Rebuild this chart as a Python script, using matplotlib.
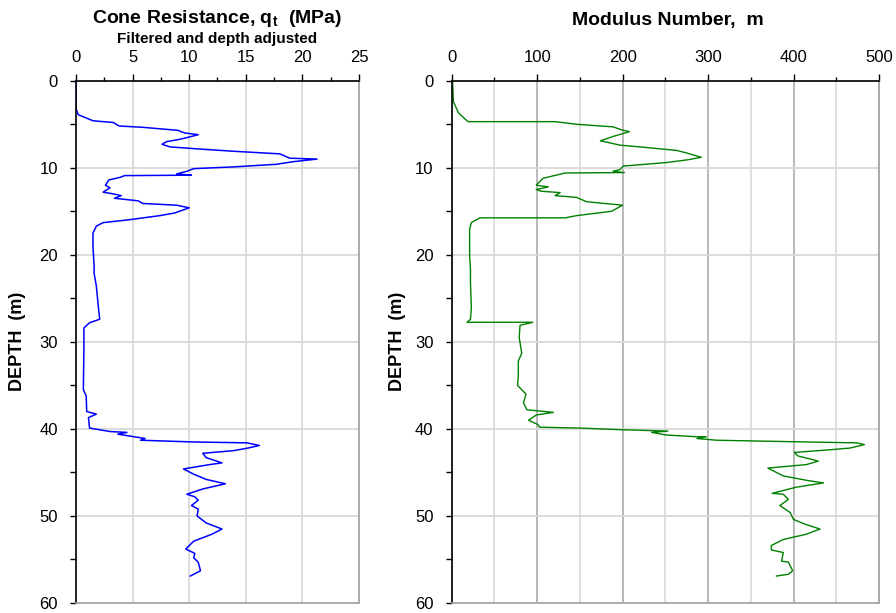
import matplotlib
matplotlib.use('Agg')
import matplotlib.pyplot as plt
from matplotlib.ticker import MultipleLocator

plt.rcParams['font.family'] = ['Liberation Sans', 'DejaVu Sans']
plt.rcParams['mathtext.fontset'] = 'custom'
plt.rcParams['mathtext.bf'] = 'Liberation Sans:bold'
plt.rcParams['mathtext.rm'] = 'Liberation Sans'

# cone resistance qt (MPa) vs depth (m)
qt_depth = [0.0, 0.5, 3.2, 3.9, 4.6, 4.8, 5.2, 5.35, 5.7, 6.0, 6.2, 6.6, 6.8, 7.0, 7.3,
            7.6, 7.8, 8.1, 8.4, 8.9, 9.0, 9.3, 9.6, 9.9, 10.1, 10.4, 10.7, 10.85, 10.9,
            11.1, 11.4, 12.0, 12.3, 12.8, 13.0, 13.2, 13.5, 13.8, 14.1, 14.3, 14.6, 15.2,
            15.5, 16.0, 16.3, 16.7, 17.5, 19.0, 21.3, 22.1, 23.6, 26.3, 27.4, 27.8, 28.4,
            30.9, 35.5, 36.2, 38.0, 38.3, 38.7, 39.9, 40.3, 40.4, 40.6, 41.1, 41.3, 41.5,
            41.6, 41.9, 42.2, 42.5, 42.8, 43.3, 43.9, 44.1, 44.6, 45.2, 45.8, 46.3, 46.9,
            47.5, 47.8, 48.2, 48.8, 49.2, 50.0, 50.8, 51.5, 52.1, 52.9, 53.8, 54.3, 54.8,
            55.3, 56.3, 56.9]
qt = [0.0, 0.0, 0.0, 0.2, 1.5, 3.3, 3.8, 5.9, 9.0, 9.6, 10.8, 9.6, 8.9, 8.0, 7.6,
      8.3, 10.4, 13.9, 18.0, 18.9, 21.3, 19.2, 17.7, 13.9, 10.4, 9.8, 8.9, 10.2, 4.3,
      3.9, 2.9, 2.6, 3.0, 2.4, 3.3, 4.0, 3.4, 5.5, 5.9, 8.9, 10.0, 8.7,
      7.4, 4.5, 2.4, 1.8, 1.5, 1.5, 1.6, 1.6, 1.8, 2.0, 2.1, 1.2, 0.7,
      0.7, 0.65, 0.9, 0.95, 1.8, 1.1, 1.2, 3.0, 4.5, 3.7, 6.1, 5.7, 10.4,
      15.1, 16.2, 15.2, 13.9, 11.2, 11.5, 12.9, 11.8, 9.5, 10.4, 11.5, 13.2, 11.2,
      9.8, 10.5, 10.8, 10.2, 10.8, 10.7, 11.5, 12.9, 12.0, 10.4, 9.7, 10.5, 10.4,
      10.8, 11.0, 10.1]

# modulus number m vs depth (m)
m_depth = [0.0, 0.1, 2.4, 3.7, 4.7, 4.7, 5.0, 5.3, 5.65, 5.85, 6.4, 6.9, 7.4, 7.6, 8.0,
           8.3, 8.8, 9.1, 9.4, 9.8, 10.2, 10.4, 10.55, 10.6, 11.2, 12.0, 12.2, 12.5,
           12.7, 12.85, 13.2, 13.4, 13.9, 14.3, 15.0, 15.5, 15.75, 15.75, 16.3, 17.1,
           20.2, 21.6, 23.2, 26.1, 27.4, 27.75, 27.75, 28.1, 29.5, 31.3, 32.2, 33.9,
           35.0, 35.5, 36.0, 37.0, 37.8, 38.1, 38.4, 39.0, 39.5, 39.8, 39.9, 40.1,
           40.25, 40.4, 40.7, 40.9, 40.9, 41.1, 41.3, 41.5, 41.6, 41.8, 42.2, 42.4,
           42.7, 43.1, 43.7, 44.1, 44.5, 45.4, 45.9, 46.2, 46.7, 47.4, 47.5, 48.1,
           48.8, 49.6, 50.4, 51.0, 51.5, 52.1, 52.7, 53.4, 53.9, 54.2, 55.2, 55.3,
           56.3, 56.7, 56.9]
modulus = [1, 1, 2, 8, 19, 121, 146, 189, 199, 208, 189, 174, 197, 220, 263,
           275, 292, 275, 251, 201, 197, 189, 202, 133, 107, 99, 113, 99,
           105, 127, 121, 146, 158, 200, 187, 146, 133, 33, 23, 21,
           21, 22, 22, 23, 22, 18, 95, 80, 79, 82, 78, 78,
           77, 82, 87, 84, 88, 119, 99, 90, 101, 103, 150, 201,
           253, 234, 251, 287, 298, 287, 310, 415, 474, 483, 466, 442,
           401, 405, 429, 415, 370, 388, 415, 435, 403, 375, 388, 394,
           384, 396, 400, 415, 431, 415, 388, 374, 374, 388, 386, 394,
           399, 394, 380]

fig = plt.figure(figsize=(8.96, 6.13), dpi=100)
ax1 = fig.add_axes([0.0848, 0.0163, 0.3158, 0.852])
ax2 = fig.add_axes([0.5041, 0.0163, 0.4769, 0.852])


def style_axis(ax, xmax, major, minor, dark_grid):
    ax.set_xlim(0, xmax)
    ax.set_ylim(60, 0)
    ax.xaxis.tick_top()
    ax.xaxis.set_major_locator(MultipleLocator(major))
    ax.xaxis.set_minor_locator(MultipleLocator(minor))
    ax.yaxis.set_major_locator(MultipleLocator(10))
    ax.yaxis.set_minor_locator(MultipleLocator(5))
    ax.tick_params(axis='x', which='major', length=5, width=1, pad=6, labelsize=12)
    ax.tick_params(axis='x', which='minor', length=3, width=1)
    ax.tick_params(axis='y', which='both', length=4, width=1, pad=9, labelsize=12)
    ax.spines['top'].set_color('black')
    ax.spines['left'].set_color('black')
    ax.spines['right'].set_color('#a0a0a0')
    ax.spines['bottom'].set_color('#a0a0a0')
    for s in ax.spines.values():
        s.set_linewidth(1.2)
    ax.set_axisbelow(True)
    ax.grid(axis='y', which='major', color='#d9d9d9', lw=1.3)
    if dark_grid:
        ax.grid(axis='x', which='major', color='#b3b3b3', lw=1.3)
        ax.grid(axis='x', which='minor', color='#dcdcdc', lw=1.3)
    else:
        ax.grid(axis='x', which='major', color='#d9d9d9', lw=1.3)


style_axis(ax1, 25, 5, 2.5, False)
style_axis(ax2, 500, 100, 50, True)

ax1.plot(qt, qt_depth, color='#0000ff', lw=1.1)
ax2.plot(modulus, m_depth, color='#008000', lw=1.0)

for ax, xpos in ((ax1, -0.177), (ax2, -0.107)):
    ax.set_ylabel('DEPTH  (m)', fontsize=13, fontweight='bold')
    ax.yaxis.set_label_coords(xpos, 0.5)

fig.text(0.242, 0.970, r'Cone Resistance, q$_{\mathbf{t}}$  (MPa)', ha='center', va='center',
         fontsize=14, fontweight='bold')
fig.text(0.242, 0.937, 'Filtered and depth adjusted', ha='center', va='center',
         fontsize=11, fontweight='bold')
fig.text(0.745, 0.966, 'Modulus Number,  m', ha='center', va='center',
         fontsize=14, fontweight='bold')

fig.savefig('out.png', dpi=100)
